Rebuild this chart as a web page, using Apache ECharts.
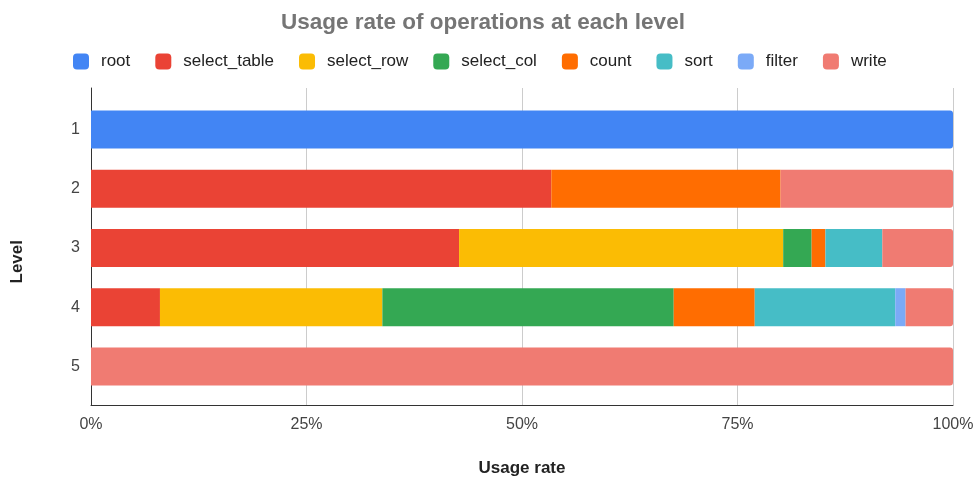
<!doctype html>
<html lang="en">
<head>
    <meta charset="utf-8" />
    <title>Usage rate of operations at each level</title>
    <script src="https://cdn.jsdelivr.net/npm/echarts@6/dist/echarts.min.js"></script>
    <style>
        html, body { margin: 0; padding: 0; background: #fff; }
        #chart { width: 977px; height: 478px; }
    </style>
</head>
<body>
<div id="chart"></div>
<script>
    // levels on the vertical axis
    var levels = ['1', '2', '3', '4', '5'];
    var xTicks = [0, 25, 50, 75, 100];

    // share (%) of each operation per level
    var root        = [100, 0, 0, 0, 0];
    var selectTable = [0, 53.4, 42.7, 8.0, 0];
    var selectRow   = [0, 0, 37.6, 25.8, 0];
    var selectCol   = [0, 0, 3.3, 33.8, 0];
    var count       = [0, 26.6, 1.6, 9.4, 0];
    var sort        = [0, 0, 6.6, 16.3, 0];
    var filter      = [0, 0, 0, 1.2, 0];
    var write       = [0, 20.0, 8.2, 5.5, 100];

    var names  = ['root', 'select_table', 'select_row', 'select_col', 'count', 'sort', 'filter', 'write'];
    var values = [root, selectTable, selectRow, selectCol, count, sort, filter, write];
    var colors = ['#4285F4', '#EA4335', '#FBBC04', '#34A853', '#FF6D01', '#46BDC6', '#7BAAF7', '#F07B72'];

    var font = 'Liberation Sans, Arial, sans-serif';

    var series = [];
    for (var i = 0; i < names.length; i++) {
        var last = names[i] == 'root' || names[i] == 'write';
        series.push({
            name: names[i],
            type: 'bar',
            stack: 'total',
            xAxisIndex: 1,
            yAxisIndex: 1,
            barWidth: 38,
            data: values[i],
            itemStyle: {
                color: colors[i],
                borderRadius: last ? [0, 3, 3, 0] : 0
            }
        });
    }

    var chart = echarts.init(document.getElementById('chart'));
    chart.setOption({
        color: colors,
        textStyle: { fontFamily: font },
        title: {
            text: 'Usage rate of operations at each level',
            left: 276,
            top: 6,
            textStyle: { fontFamily: font, fontSize: 22.5, fontWeight: 'bold', color: '#757575' }
        },
        legend: {
            data: names,
            top: 48,
            left: 68,
            icon: 'roundRect',
            itemWidth: 16,
            itemHeight: 16,
            itemGap: 25,
            textStyle: { fontFamily: font, fontSize: 17, color: '#222', padding: [0, 0, 0, 7] }
        },
        grid: [
            { left: 91, right: 24, top: 88, bottom: 73, outerBoundsMode: 'none' },
            { left: 91, right: 24, top: 100, bottom: 82, outerBoundsMode: 'none' }
        ],
        xAxis: [
            {
                gridIndex: 0,
                type: 'value',
                min: xTicks[0],
                max: xTicks[xTicks.length - 1],
                interval: 25,
                axisLine: { show: true, onZero: false, lineStyle: { color: '#333', width: 1 } },
                axisTick: { show: false },
                splitLine: { show: true, lineStyle: { color: '#ccc' } },
                axisLabel: {
                    formatter: '{value}%',
                    margin: 12,
                    fontSize: 16,
                    color: '#444',
                    fontFamily: font
                },
                name: 'Usage rate',
                nameLocation: 'middle',
                nameGap: 55,
                nameTextStyle: { fontSize: 17, fontWeight: 'bold', color: '#222', fontFamily: font }
            },
            {
                gridIndex: 1,
                type: 'value',
                min: 0,
                max: 100,
                show: false
            }
        ],
        yAxis: [
            {
                gridIndex: 0,
                type: 'value',
                axisLine: { show: true, onZero: false, lineStyle: { color: '#333', width: 1 } },
                axisTick: { show: false },
                axisLabel: { show: false },
                splitLine: { show: false }
            },
            {
                gridIndex: 1,
                type: 'category',
                data: levels,
                inverse: true,
                axisLine: { show: false },
                axisTick: { show: false },
                axisLabel: { margin: 11, fontSize: 16, color: '#444', fontFamily: font }
            }
        ],
        graphic: [{
            type: 'text',
            left: 9,
            top: 240,
            rotation: Math.PI / 2,
            style: {
                text: 'Level',
                fontSize: 17,
                fontWeight: 'bold',
                fill: '#222',
                fontFamily: font
            }
        }],
        series: series
    });
</script>
</body>
</html>
